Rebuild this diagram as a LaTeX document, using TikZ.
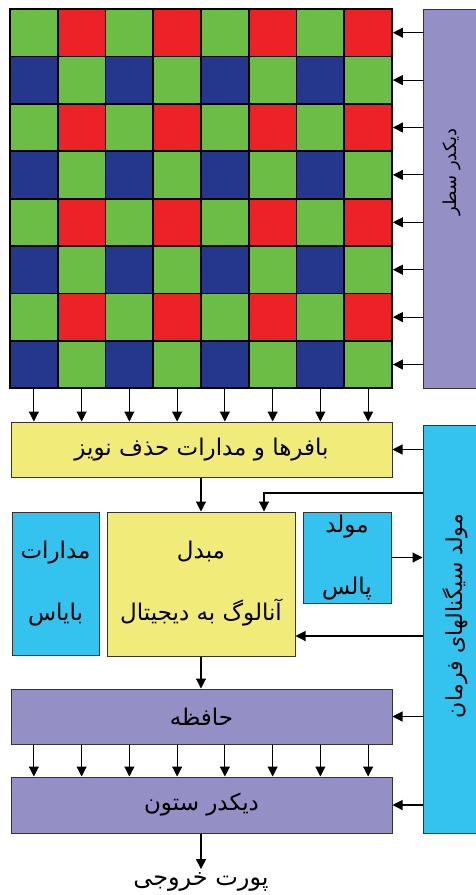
\documentclass[tikz,border=0pt]{standalone}
\usepackage{fontspec}
\usepackage{tikz}
\usetikzlibrary{arrows.meta,calc}
\newfontfamily\fa[Script=Arabic]{DejaVu Sans}
\TeXXeTstate=1
\definecolor{pxgreen}{HTML}{6CBD45}
\definecolor{pxred}{HTML}{EC2227}
\definecolor{pxblue}{HTML}{25378C}
\definecolor{lav}{HTML}{948FC4}
\definecolor{ylw}{HTML}{F1EB7A}
\definecolor{cyn}{HTML}{34C2EF}
\newcommand{\rtl}[1]{\beginR #1\endR}

\begin{document}
\begin{tikzpicture}[x=1pt,y=-1pt,
  cell/.style={draw=black,line width=1.8pt,minimum width=47.75pt,
               minimum height=47.4pt,inner sep=0pt},
  blk/.style={draw=black!80,line width=1pt,inner sep=0pt,align=center,
              font=\fa\fontsize{23}{62}\selectfont},
  lbl/.style={font=\fa\fontsize{23}{26}\selectfont},
  arr/.style={-{Triangle[length=10pt,width=10pt]},line width=1.1pt}]
  \useasboundingbox (0,0) rectangle (476,895);
  \foreach \r in {0,...,7}{
    \foreach \c in {0,...,7}{
      \pgfmathtruncatemacro\pcol{2*mod(\r,2)+mod(\c,2)}
      \ifcase\pcol \def\cc{pxgreen}\or\def\cc{pxred}\or\def\cc{pxblue}\else\def\cc{pxgreen}\fi
      \node[cell,fill=\cc] (c\r\c) at ({10+47.75*(\c+0.5)},{9+47.4*(\r+0.5)}) {};
    }
  }
  \node[blk,fill=lav,minimum width=59pt,minimum height=379pt] (rowdec) at (452.5,198.5) {};
  \node[lbl,rotate=90,font=\fa\fontsize{18}{20}\selectfont] (rowlbl) at (452,172) {\rtl{دیکدر سطر}};
  \node[blk,fill=cyn,minimum width=59pt,minimum height=408pt] (ctrl) at (452.5,629) {};
  \node[lbl,rotate=90,font=\fa\fontsize{22}{24}\selectfont] (ctrllbl) at (455,616) {\rtl{مولد سیگنالهای فرمان}};
  \node[blk,fill=ylw,minimum width=381pt,minimum height=55pt] (buf) at (201.5,449.5)
    {\rtl{بافرها و مدارات حذف نویز}};
  \node[blk,fill=ylw,minimum width=188pt,minimum height=144pt] (adc) at (201,584)
    {\rtl{مبدل}\\\rtl{آنالوگ به دیجیتال}};
  \node[blk,fill=cyn,minimum width=87pt,minimum height=143pt] (bias) at (55.5,583.5)
    {\rtl{مدارات}\\\rtl{بایاس}};
  \node[blk,fill=cyn,minimum width=88pt,minimum height=91pt] (pulse) at (347,557.5)
    {\rtl{مولد}\\\rtl{پالس}};
  \node[blk,fill=lav,minimum width=381pt,minimum height=55pt] (mem) at (201.5,716.5)
    {\rtl{حافظه}};
  \node[blk,fill=lav,minimum width=381pt,minimum height=56pt] (coldec) at (201.5,805)
    {\rtl{دیکدر ستون}};
  \node[lbl,font=\fa\fontsize{24}{26}\selectfont] (out) at (201,882) {\rtl{پورت خروجی}};

  \foreach \i in {0,...,7}{
    \draw[arr] (rowdec.west |- c\i7) -- (c\i7.east);
    \draw[arr] (c7\i.south) -- (buf.north -| c7\i);
    \draw[arr] (mem.south -| c7\i) -- (coldec.north -| c7\i);
  }
  \coordinate (bend) at (264,493);
  \coordinate (adcr) at (295,636);
  \draw[arr] (ctrl.west |- buf) -- (buf.east);
  \draw[arr] (buf.south -| adc) -- (adc.north);
  \draw[arr] (ctrl.west |- bend) -| (adc.north -| bend);
  \draw[arr] (pulse.east) -- (pulse.east -| ctrl.west);
  \draw[arr] (ctrl.west |- adcr) -- (adc.east |- adcr);
  \draw[arr] (adc.south) -- (adc.south |- mem.north);
  \draw[arr] (ctrl.west |- mem) -- (mem.east);
  \draw[arr] (ctrl.west |- coldec) -- (coldec.east);
  \draw[arr] (coldec.south -| out) -- (out.north);
\end{tikzpicture}
\end{document}
